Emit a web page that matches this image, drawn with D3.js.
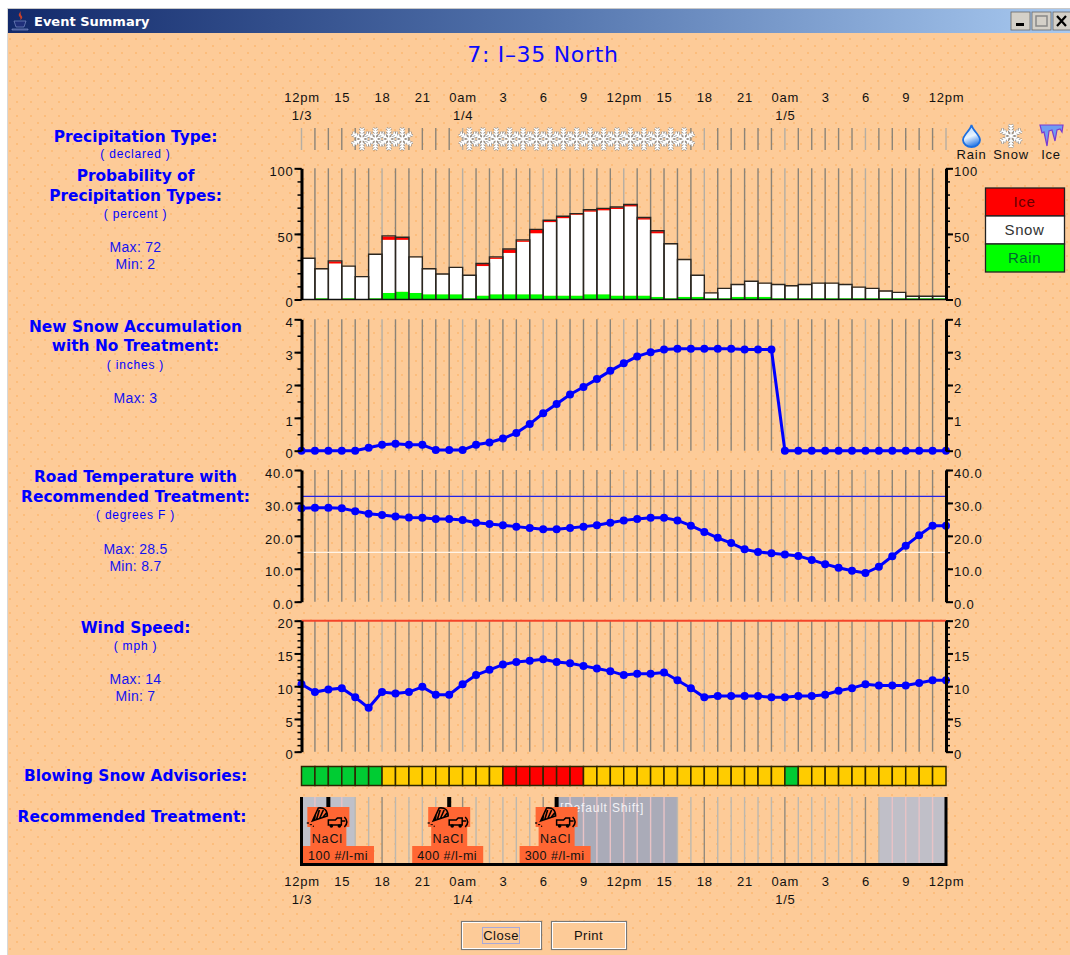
<!DOCTYPE html>
<html>
<head>
<meta charset="utf-8">
<title>Event Summary</title>
<script src="https://cdn.jsdelivr.net/npm/d3@7/dist/d3.min.js"></script>
<style>
  html, body { margin: 0; padding: 0; background: #fff; }
  svg { display: block; }
  .tick-text text, .axis text { font-family: "Liberation Sans", sans-serif; font-size: 13px; letter-spacing: 0.8px; fill: #111; }
  .head { font-family: "DejaVu Sans", sans-serif; font-weight: bold; font-size: 15.4px; fill: #0000ff; text-anchor: middle; }
  .sub { font-family: "Liberation Sans", sans-serif; font-size: 12px; letter-spacing: 0.8px; fill: #0000ff; text-anchor: middle; }
  .stat { font-family: "Liberation Sans", sans-serif; font-size: 14px; letter-spacing: 0.3px; fill: #1414f0; text-anchor: middle; }
</style>
</head>
<body>
<svg id="chart" width="1070" height="955"></svg>
<script>
// hour labels along the time axis
const hourTicks = [0, 3, 6, 9, 12, 15, 18, 21, 24, 27, 30, 33, 36, 39, 42, 45, 48];
const hourLabels = ["12pm", "15", "18", "21", "0am", "3", "6", "9", "12pm", "15", "18", "21", "0am", "3", "6", "9", "12pm"];
const dateTicks = [0, 12, 36];
const dateLabels = ["1/3", "1/4", "1/5"];

// declared precipitation, one entry per hour
const declared = ["", "", "", "", "S", "S", "S", "S", "", "", "", "", "S", "S", "S", "S", "S", "S", "S", "S", "S", "S", "S", "S", "S", "S", "S", "S", "S", "", "", "", "", "", "", "", "", "", "", "", "", "", "", "", "", "", "", ""];

// probability of precipitation types (percent), 48 hourly bars
const rainPct = [0, 1, 0, 1, 0, 1, 5, 6, 5, 4, 4, 4, 1, 3, 4, 4, 4, 4, 3, 3, 3, 4, 4, 3, 3, 3, 2, 1, 2, 2, 1, 1, 2, 2, 2, 1, 1, 1, 1, 1, 1, 1, 1, 1, 1, 1, 1, 1];
const snowPct = [31, 22, 27.5, 24, 17, 33, 40.5, 39.5, 27, 19, 15, 20, 17, 22.5, 27, 31.5, 40, 46.5, 56, 59, 61.5, 63, 64, 66, 68, 58, 48.5, 41, 28, 16, 3.6, 7, 9, 11.5, 10, 10, 9, 10, 11, 11, 10, 8, 7, 5, 4, 1, 1, 1];
const icePct = [0, 0, 1.5, 0, 0, 0, 2.5, 1.5, 0, 0, 0, 0, 0, 1.5, 1, 2.5, 1, 2.5, 1, 1, 0.5, 1, 1, 1, 1, 1, 1.5, 0, 0, 0, 0, 0, 0, 0, 0, 0, 0, 0, 0, 0, 0, 0, 0, 0, 0, 0, 0, 0];

// hourly series, 49 points
const newSnow = [0, 0, 0, 0, 0, 0.09, 0.18, 0.21, 0.18, 0.18, 0.02, 0.02, 0.02, 0.18, 0.25, 0.37, 0.54, 0.81, 1.14, 1.42, 1.71, 1.94, 2.18, 2.43, 2.66, 2.87, 3.0, 3.08, 3.1, 3.1, 3.1, 3.1, 3.1, 3.08, 3.08, 3.08, 0, 0, 0, 0, 0, 0, 0, 0, 0, 0, 0, 0, 0];
const roadTemp = [28.4, 28.5, 28.5, 28.4, 27.5, 26.7, 26.3, 25.9, 25.6, 25.5, 25.1, 25.1, 24.8, 24, 23.6, 23.2, 22.8, 22.4, 22, 22, 22.4, 22.8, 23.2, 24, 24.7, 25.1, 25.5, 25.5, 24.7, 23.1, 21.2, 19.4, 17.8, 15.9, 15.1, 14.7, 14.3, 13.9, 12.7, 11.4, 10.3, 9.4, 8.7, 10.6, 13.8, 17, 20.2, 23.1, 23.1];
const windSpeed = [10.3, 9.1, 9.5, 9.7, 8.3, 6.7, 9.1, 8.9, 9.1, 9.9, 8.7, 8.7, 10.3, 11.7, 12.5, 13.3, 13.7, 13.9, 14.1, 13.7, 13.5, 13.1, 12.7, 12.3, 11.7, 11.9, 11.9, 12.1, 10.9, 9.7, 8.3, 8.5, 8.5, 8.5, 8.5, 8.3, 8.3, 8.5, 8.5, 8.7, 9.3, 9.7, 10.3, 10.1, 10.1, 10.1, 10.5, 10.9, 10.9];

// blowing snow advisory level per hour: G green, Y yellow, R red
const advisories = "GGGGGGYYYYYYYYYRRRRRRYYYYYYYYYYYYYYYGYYYYYYYYYYY".split("");

// treatments
const treatHours = [2, 11, 19];
const treatLabels = ["100 #/l-mi", "400 #/l-mi", "300 #/l-mi"];
const shiftStart = [0, 19, 43];
const shiftEnd = [4, 28, 48];

// legend
const legendNames = ["Ice", "Snow", "Rain"];
const legendColors = ["#ff0000", "#ffffff", "#00ff00"];

const svg = d3.select("#chart");
const width = 1070;
const height = 955;
const defs = svg.append("defs");

// dotted window background
const dots = defs.append("pattern")
  .attr("id", "dots")
  .attr("width", 14)
  .attr("height", 14)
  .attr("patternUnits", "userSpaceOnUse");
dots.append("rect").attr("width", 14).attr("height", 14).attr("fill", "#fdcb98");
dots.append("rect").attr("x", 2).attr("y", 3).attr("width", 2).attr("height", 2).attr("fill", "#fcbd7c");
dots.append("rect").attr("x", 9).attr("y", 10).attr("width", 2).attr("height", 2).attr("fill", "#fcbd7c");

const titleGrad = defs.append("linearGradient").attr("id", "title-grad");
titleGrad.append("stop").attr("offset", "0%").attr("stop-color", "#12296a");
titleGrad.append("stop").attr("offset", "50%").attr("stop-color", "#5273ac");
titleGrad.append("stop").attr("offset", "100%").attr("stop-color", "#a8c9f0");

// Window
svg.append("rect").attr("x", 8).attr("y", 9).attr("width", width - 8).attr("height", height - 9).attr("fill", "url(#dots)");
svg.append("line").attr("x1", 7.5).attr("x2", 7.5).attr("y1", 8).attr("y2", height).attr("stroke", "#d8d8d8");
svg.append("rect").attr("x", 8).attr("y", 9).attr("width", width - 8).attr("height", 24).attr("fill", "url(#title-grad)");
svg.append("line").attr("x1", 8).attr("x2", width).attr("y1", 8.5).attr("y2", 8.5).attr("stroke", "#c8c8c8");

svg.append("text")
  .attr("x", 34).attr("y", 26)
  .attr("font-family", "DejaVu Sans, sans-serif")
  .attr("font-weight", "bold")
  .attr("font-size", 13)
  .attr("fill", "#fff")
  .text("Event Summary");

// Java cup icon
svg.append("path").attr("d", "M21 11 q-4 4 -1 6 q1 2 0 3 q4 -2 1 -5 q-1 -2 0 -4z").attr("fill", "#c8402a");
svg.append("path").attr("d", "M14 21 h12 l-2 6 h-8z M12 29 h16 v1 h-16z").attr("fill", "#1f2f7a").attr("stroke", "#9fb0e0").attr("stroke-width", 0.5);

// Window buttons
const winBtn = svg.append("g");
[1011, 1032, 1053].forEach((bx, i) => {
  winBtn.append("rect").attr("x", bx).attr("y", 12).attr("width", 19).attr("height", 18).attr("fill", "#d4d0c8").attr("stroke", "#666").attr("stroke-width", 0.8);
  if (i === 0) winBtn.append("rect").attr("x", bx + 5).attr("y", 23).attr("width", 8).attr("height", 3).attr("fill", "#000");
  if (i === 1) winBtn.append("rect").attr("x", bx + 4).attr("y", 16).attr("width", 11).attr("height", 10).attr("fill", "none").attr("stroke", "#888").attr("stroke-width", 1.5);
  if (i === 2) winBtn.append("path").attr("d", `M${bx + 4} 16 l9 10 M${bx + 13} 16 l-9 10`).attr("stroke", "#000").attr("stroke-width", 2.2);
});

// Heading
svg.append("text")
  .attr("x", 543).attr("y", 62)
  .attr("text-anchor", "middle")
  .attr("font-family", "DejaVu Sans, sans-serif")
  .attr("font-size", 22)
  .attr("letter-spacing", 0.7)
  .attr("fill", "#0a0aff")
  .text("7: I–35 North");

// Shared scales
const x = d3.scaleLinear().domain([0, 48]).range([301.5, 946]);
const gridHours = d3.range(0, 49);

function gridColor(h) {
  return h % 6 === 0 ? "#b5aea3" : "#8b8478";
}

function drawGrid(top, bottom, hours) {
  svg.append("g").selectAll("line")
    .data(hours)
    .join("line")
    .attr("x1", d => x(d)).attr("x2", d => x(d))
    .attr("y1", top).attr("y2", bottom)
    .attr("stroke", gridColor)
    .attr("stroke-width", 1.4);
}

function timeAxis(yTop, yDate) {
  const g = svg.append("g")
    .attr("class", "tick-text")
    .attr("transform", `translate(0, ${yTop})`)
    .call(d3.axisTop(x).tickValues(hourTicks).tickFormat((d, i) => hourLabels[i]).tickSize(0).tickPadding(0));
  g.select(".domain").remove();
  const d = svg.append("g")
    .attr("class", "tick-text")
    .attr("transform", `translate(0, ${yDate})`)
    .call(d3.axisTop(x).tickValues(dateTicks).tickFormat((v, i) => dateLabels[i]).tickSize(0).tickPadding(0));
  d.select(".domain").remove();
}

timeAxis(102, 120);
timeAxis(886, 904);

function yAxes(y, majors, minors, fmt) {
  [[d3.axisLeft, x(0)], [d3.axisRight, x(48)]].forEach(([axisFn, pos]) => {
    const minor = svg.append("g")
      .attr("transform", `translate(${pos}, 0)`)
      .call(axisFn(y).tickValues(minors).tickFormat("").tickSize(4).tickSizeOuter(0));
    minor.selectAll("line").attr("stroke", "#000").attr("stroke-width", 1.5);
    minor.select(".domain").remove();

    const major = svg.append("g")
      .attr("class", "axis")
      .attr("transform", `translate(${pos}, 0)`)
      .call(axisFn(y).tickValues(majors).tickFormat(fmt).tickSize(7).tickSizeOuter(0).tickPadding(1));
    major.select(".domain").attr("stroke", "#000").attr("stroke-width", 3);
    major.selectAll("line").attr("stroke", "#000").attr("stroke-width", 2);
    major.selectAll("text").attr("dy", "0.55em");
  });
}

function hourlyLine(y, values) {
  const line = d3.line().x((d, i) => x(i)).y(d => y(d));
  svg.append("path")
    .datum(values)
    .attr("d", line)
    .attr("fill", "none")
    .attr("stroke", "#0000ff")
    .attr("stroke-width", 3);
  svg.append("g").selectAll("circle")
    .data(values)
    .join("circle")
    .attr("cx", (d, i) => x(i))
    .attr("cy", d => y(d))
    .attr("r", 4)
    .attr("fill", "#0000ff");
}

// Precipitation type strip
const declaredGrid = gridHours.filter(h => {
  const inside = h < 48 && h > 0 && declared[h] === "S" && declared[h - 1] === "S";
  return !inside;
});
drawGrid(128, 150, declaredGrid);

function flakePath(r) {
  let p = "";
  d3.range(6).forEach(k => {
    const a = k * Math.PI / 3 + Math.PI / 2;
    const cx = Math.cos(a), sy = Math.sin(a);
    p += `M0 0L${cx * r} ${sy * r}`;
    [0.35, 0.6, 0.85].forEach(t => {
      const bx = cx * r * t, by = sy * r * t;
      const l = r * 0.28;
      p += `M${bx} ${by}L${bx + Math.cos(a + 0.9) * l} ${by + Math.sin(a + 0.9) * l}`;
      p += `M${bx} ${by}L${bx + Math.cos(a - 0.9) * l} ${by + Math.sin(a - 0.9) * l}`;
    });
  });
  return p;
}

function drawFlake(parent, cx, cy, r) {
  const g = parent.append("g").attr("transform", `translate(${cx}, ${cy})`);
  g.append("path").attr("d", flakePath(r)).attr("stroke", "#777").attr("stroke-width", 2.6).attr("fill", "none");
  g.append("path").attr("d", flakePath(r)).attr("stroke", "#fff").attr("stroke-width", 1.5).attr("fill", "none");
}

const flakes = svg.append("g");
declared.forEach((d, h) => {
  if (d === "S") drawFlake(flakes, x(h + 0.5), 139, 10.5);
});

// Precipitation type key
const keyText = svg.append("g").attr("class", "tick-text");
[["Rain", 971.5], ["Snow", 1011], ["Ice", 1051]].forEach(([t, tx]) => {
  keyText.append("text").attr("x", tx).attr("y", 159).attr("text-anchor", "middle").text(t);
});
defs.append("linearGradient").attr("id", "drop-grad").attr("x1", 0).attr("y1", 0).attr("x2", 0.3).attr("y2", 1)
  .selectAll("stop").data([["0%", "#a8d0ff"], ["60%", "#e8f4ff"], ["100%", "#3f86e8"]]).join("stop")
  .attr("offset", d => d[0]).attr("stop-color", d => d[1]);
svg.append("path")
  .attr("d", "M971.5 125 C973 131 980 135 980 140 C980 144 976 147 971.5 147 C967 147 963 144 963 140 C963 135 970 131 971.5 125z")
  .attr("fill", "url(#drop-grad)")
  .attr("stroke", "#1c6fe0")
  .attr("stroke-width", 1.8);
drawFlake(svg, 1011, 136, 11);
svg.append("path")
  .attr("d", "M1040 125 H1063 L1062 132 L1060 129 L1057 130 L1055 141 L1052 130 L1049 131 L1047 146 L1044 132 L1042 133z")
  .attr("fill", "#6f9cf2")
  .attr("stroke", "#7a3ad0")
  .attr("stroke-width", 1.2);

// Probability chart
const yProb = d3.scaleLinear().domain([0, 100]).range([299.5, 168.3]);
drawGrid(168.3, 299.5, gridHours);

const barRows = rainPct.map((d, i) => ({ hour: i, Rain: d, Snow: snowPct[i], Ice: icePct[i] }));
const stacked = d3.stack().keys(["Rain", "Snow", "Ice"])(barRows);
const typeColor = d3.scaleOrdinal().domain(legendNames).range(legendColors);

svg.append("g").selectAll("g")
  .data(stacked)
  .join("g")
  .attr("fill", d => typeColor(d.key))
  .selectAll("rect")
  .data(d => d)
  .join("rect")
  .attr("x", d => x(d.data.hour))
  .attr("width", d => x(d.data.hour + 1) - x(d.data.hour))
  .attr("y", d => yProb(d[1]))
  .attr("height", d => yProb(d[0]) - yProb(d[1]));

svg.append("g").selectAll("path")
  .data(barRows)
  .join("path")
  .attr("d", d => {
    const top = yProb(d.Rain + d.Snow + d.Ice);
    return `M${x(d.hour)} ${yProb(0)}V${top - 0.6}H${x(d.hour + 1)}V${yProb(0)}`;
  })
  .attr("fill", "none")
  .attr("stroke", "#2a2620")
  .attr("stroke-width", 1.4);
svg.append("line").attr("x1", x(0)).attr("x2", x(48)).attr("y1", yProb(0)).attr("y2", yProb(0)).attr("stroke", "#111").attr("stroke-width", 1.5);

yAxes(yProb, [0, 50, 100], d3.range(0, 101, 10), d => d);

// Legend
const legend = svg.append("g");
const legendY = d3.scaleBand().domain(legendNames).range([188, 272]);
legend.selectAll("rect")
  .data(legendNames)
  .join("rect")
  .attr("x", 985.5)
  .attr("y", d => legendY(d))
  .attr("width", 79)
  .attr("height", legendY.bandwidth())
  .attr("fill", d => typeColor(d))
  .attr("stroke", "#222")
  .attr("stroke-width", 1.3);
legend.selectAll("text")
  .data(legendNames)
  .join("text")
  .attr("x", 1024.5)
  .attr("y", d => legendY(d) + 19)
  .attr("text-anchor", "middle")
  .attr("font-family", "Liberation Sans, sans-serif")
  .attr("font-size", 15)
  .attr("letter-spacing", 0.6)
  .attr("fill", d => d === "Ice" ? "#660000" : d === "Rain" ? "#063" : "#333")
  .text(d => d);

// New snow chart
const ySnow = d3.scaleLinear().domain([0, 4]).range([450.7, 319.3]);
drawGrid(319.3, 450.7, gridHours);
hourlyLine(ySnow, newSnow);
yAxes(ySnow, [0, 1, 2, 3, 4], d3.range(0, 4.01, 0.5), d => d);

// Road temperature chart
const yTemp = d3.scaleLinear().domain([0, 40]).range([601.7, 470]);
drawGrid(470, 601.7, gridHours);
[[32, "#2323e6"], [15, "#fff4e6"]].forEach(([v, c]) => {
  svg.append("line").attr("x1", x(0)).attr("x2", x(48)).attr("y1", yTemp(v)).attr("y2", yTemp(v)).attr("stroke", c).attr("stroke-width", 1.3);
});
hourlyLine(yTemp, roadTemp);
yAxes(yTemp, [0, 10, 20, 30, 40], d3.range(0, 41, 5), d3.format(".1f"));

// Wind chart
const yWind = d3.scaleLinear().domain([0, 20]).range([751.7, 620.7]);
drawGrid(620.7, 751.7, gridHours);
svg.append("line").attr("x1", x(0)).attr("x2", x(48)).attr("y1", yWind(20)).attr("y2", yWind(20)).attr("stroke", "#f4452a").attr("stroke-width", 2);
hourlyLine(yWind, windSpeed);
yAxes(yWind, [0, 5, 10, 15, 20], d3.range(0, 21), d => d);

// Advisory strip
const advColor = d3.scaleOrdinal().domain(["G", "Y", "R"]).range(["#00cc33", "#ffcc00", "#ff0000"]);
svg.append("g").selectAll("rect")
  .data(advisories)
  .join("rect")
  .attr("x", (d, i) => x(i))
  .attr("y", 766.5)
  .attr("width", (d, i) => x(i + 1) - x(i))
  .attr("height", 19)
  .attr("fill", d => advColor(d))
  .attr("stroke", "#2e2600")
  .attr("stroke-width", 1.5);

// Treatment strip
const shiftColor = ["#bfc0c9", "#aaabb8", "#c0bfc8"];
svg.append("g").selectAll("rect")
  .data(shiftStart)
  .join("rect")
  .attr("x", d => x(d))
  .attr("y", 797)
  .attr("width", (d, i) => x(shiftEnd[i]) - x(d))
  .attr("height", 66)
  .attr("fill", (d, i) => shiftColor[i]);

svg.append("g").selectAll("line")
  .data(gridHours)
  .join("line")
  .attr("x1", d => x(d)).attr("x2", d => x(d))
  .attr("y1", 797).attr("y2", 863)
  .attr("stroke", d => {
    const shaded = shiftStart.some((s, i) => d > s && d < shiftEnd[i]);
    if (shaded) return "#e8c3c6";
    return d % 6 === 0 ? "#938b7e" : "#bdb8ae";
  })
  .attr("stroke-width", 1.4);

svg.append("text")
  .attr("x", 560).attr("y", 812)
  .attr("font-family", "Liberation Sans, sans-serif")
  .attr("font-size", 12)
  .attr("letter-spacing", 0.8)
  .attr("fill", "#f2f2f6")
  .text("[Default Shift]");

svg.append("path")
  .attr("d", `M${x(0)} 797V864.5H${x(48)}V797`)
  .attr("fill", "none")
  .attr("stroke", "#000")
  .attr("stroke-width", 3);

treatHours.forEach((h, i) => {
  const c = x(h);
  const g = svg.append("g");
  const left = Math.max(303, c - 37);
  g.append("rect").attr("x", c - 2).attr("y", 797).attr("width", 4).attr("height", 11).attr("fill", "#000");
  g.append("rect").attr("x", c - 21).attr("y", 807).attr("width", 42).attr("height", 20).attr("fill", "#ff6633");
  g.append("rect").attr("x", c - 18).attr("y", 827).attr("width", 36).attr("height", 20).attr("fill", "#ff6633");
  g.append("rect").attr("x", left).attr("y", 846).attr("width", 71).attr("height", 17).attr("fill", "#ff6633");
  // spreader fan and plow truck
  g.append("path")
    .attr("d", `M${c - 16} 821 L${c - 10} 808 Q${c - 1} 807 ${c - 1} 816 Z M${c - 13} 814 L${c - 14} 821 M${c - 9} 810 L${c - 12} 820 M${c - 5} 810 L${c - 9} 819 M${c - 2} 813 L${c - 6} 818`)
    .attr("fill", "none").attr("stroke", "#000").attr("stroke-width", 1.6);
  g.append("path")
    .attr("d", `M${c} 820 H${c + 7} L${c + 9} 818 H${c + 13} V825 H${c} Z M${c + 16} 817 Q${c + 21} 822 ${c + 16} 827 M${c + 13} 821 H${c + 17}`)
    .attr("fill", "none").attr("stroke", "#000").attr("stroke-width", 1.5);
  g.selectAll("circle.w").data([3, 11]).join("circle").attr("cx", d => c + d).attr("cy", 826).attr("r", 1.8).attr("fill", "#000");
  g.selectAll("circle.s").data([-21, -18, -15, -20, -17]).join("circle").attr("cx", d => c + d).attr("cy", (d, k) => 823 + (k % 3) * 1.6).attr("r", 0.7).attr("fill", "#000");
  g.append("text").attr("x", c - 1).attr("y", 843).attr("text-anchor", "middle")
    .attr("font-family", "Liberation Sans, sans-serif").attr("font-size", 12.5).attr("letter-spacing", 0.9).attr("fill", "#111").text("NaCl");
  g.append("text").attr("x", left + 35).attr("y", 860).attr("text-anchor", "middle")
    .attr("font-family", "Liberation Sans, sans-serif").attr("font-size", 12.5).attr("letter-spacing", 0.5).attr("fill", "#111").text(treatLabels[i]);
});

// Left-hand labels
const labelText = [
  "Precipitation Type:", "( declared )", "Probability of", "Precipitation Types:", "( percent )", "Max: 72", "Min: 2",
  "New Snow Accumulation", "with No Treatment:", "( inches )", "Max: 3",
  "Road Temperature with", "Recommended Treatment:", "( degrees F )", "Max: 28.5", "Min: 8.7",
  "Wind Speed:", "( mph )", "Max: 14", "Min: 7",
  "Blowing Snow Advisories:", "Recommended Treatment:"
];
const labelClass = ["head", "sub", "head", "head", "sub", "stat", "stat", "head", "head", "sub", "stat", "head", "head", "sub", "stat", "stat", "head", "sub", "stat", "stat", "head", "head"];
const labelY = [142, 158, 181, 201, 218, 252, 269, 332, 351, 369, 403, 482, 502, 519, 554, 571, 633, 650, 684, 701, 781, 822];

svg.append("g").selectAll("text")
  .data(labelText)
  .join("text")
  .attr("class", (d, i) => labelClass[i])
  .attr("x", (d, i) => i === labelText.length - 1 ? 132 : 135.5)
  .attr("y", (d, i) => labelY[i])
  .text(d => d);

// Buttons
[["Close", 461, 80], ["Print", 551, 75]].forEach(([t, bx, bw]) => {
  svg.append("rect").attr("x", bx + 0.5).attr("y", 921.5).attr("width", bw).attr("height", 28)
    .attr("fill", "#fdcb98").attr("stroke", "#777").attr("stroke-width", 1.2);
  svg.append("rect").attr("x", bx + 1.5).attr("y", 922.5).attr("width", bw - 2).attr("height", 26)
    .attr("fill", "none").attr("stroke", "#fff").attr("stroke-width", 1);
  if (t === "Close") {
    svg.append("rect").attr("x", bx + 21.5).attr("y", 927.5).attr("width", 37).attr("height", 16)
      .attr("fill", "none").attr("stroke", "#a8a8d8").attr("stroke-width", 1);
  }
  svg.append("text").attr("x", bx + bw / 2).attr("y", 940).attr("text-anchor", "middle")
    .attr("font-family", "Liberation Sans, sans-serif").attr("font-size", 13).attr("letter-spacing", 0.5).attr("fill", "#111").text(t);
});
</script>
</body>
</html>
